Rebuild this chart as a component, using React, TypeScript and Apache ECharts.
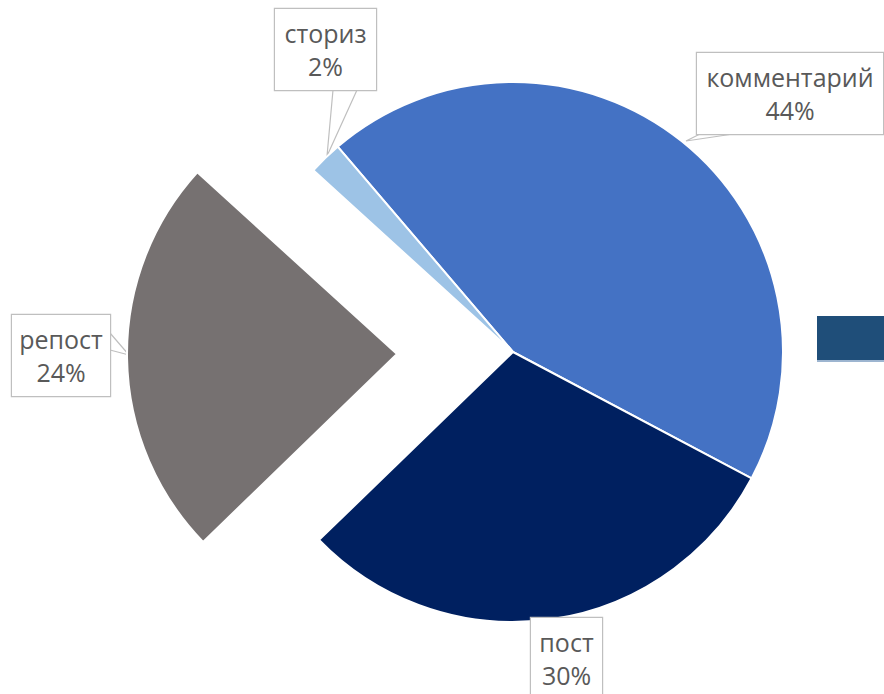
import React, { useEffect, useRef } from "react";
import * as echarts from "echarts";

const categories = ["комментарий", "пост", "репост", "сториз"];
const values = [44, 30, 24, 2];
const colors = ["#4472C4", "#002060", "#767171", "#9DC3E6"];
const explodedName = "репост";

export default function App() {
  const ref = useRef<HTMLDivElement>(null);
  useEffect(() => {
    const chart = echarts.init(ref.current!, null, { renderer: "svg" });
    const labelPos: Record<string, any> = {
      "комментарий": { x: 790, y: 53, w: 168, pts: [[702, 133], [686, 141], [740, 133]] },
      "пост": { x: 566.5, y: 618, w: 53, pts: null },
      "репост": { x: 61, y: 315, w: 80, pts: [[110, 333], [129, 355], [110, 350]] },
      "сториз": { x: 325.5, y: 9, w: 83, pts: [[333, 90], [327, 156], [357, 90]] },
    };
    const label = {
      show: true,
      position: "outside",
      formatter: "{b}\n{d}%",
      fontFamily: "Open Sans",
      fontSize: 25,
      lineHeight: 33,
      color: "#595959",
      align: "center",
      overflow: "none",
      backgroundColor: "#ffffff",
      borderColor: "#BFBFBF",
      borderWidth: 1.2,
      padding: [7, 9, 8, 9],
    };
    const labelLayout = (params: any) => {
      const p = labelPos[categories[params.dataIndex]];
      const out: any = { x: p.x, y: p.y, align: "center", verticalAlign: "top" };
      if (p.pts) out.labelLinePoints = p.pts;
      return out;
    };
    const base = {
      type: "pie",
      radius: [0, 270],
      startAngle: 130.5,
      clockwise: true,
      silent: true,
      emphasis: { disabled: true },
      label,
      labelLine: { show: true, lineStyle: { color: "#BFBFBF", width: 1.2 } },
      labelLayout,
    };
    chart.setOption({
      animation: false,
      backgroundColor: "#ffffff",
      series: [
        {
          ...base,
          center: [513, 352],
          data: categories.map((name, i) => {
            const hidden = name === explodedName;
            return {
              name,
              value: values[i],
              itemStyle: hidden
                ? { color: "rgba(0,0,0,0)", borderWidth: 0 }
                : { color: colors[i], borderColor: "#ffffff", borderWidth: 2 },
              label: { show: !hidden, width: labelPos[name].w },
              labelLine: { show: !hidden && name !== "пост" },
            };
          }),
        },
        {
          ...base,
          center: [397, 354],
          data: categories.map((name, i) => {
            const shown = name === explodedName;
            return {
              name,
              value: values[i],
              itemStyle: shown
                ? { color: colors[i], borderColor: "#ffffff", borderWidth: 2 }
                : { color: "rgba(0,0,0,0)", borderWidth: 0 },
              label: { show: shown, width: labelPos[name].w },
              labelLine: { show: shown },
            };
          }),
        },
      ],
      graphic: [
        { type: "rect", shape: { x: 817, y: 316, width: 67, height: 44 }, style: { fill: "#1F4E79" } },
        { type: "rect", shape: { x: 817, y: 360, width: 67, height: 2 }, style: { fill: "#9DB5D0" } },
      ],
    });
    return () => chart.dispose();
  }, []);
  return (
    <div
      ref={ref}
      style={{ position: "absolute", left: 0, top: 0, width: 884, height: 694 }}
    />
  );
}
